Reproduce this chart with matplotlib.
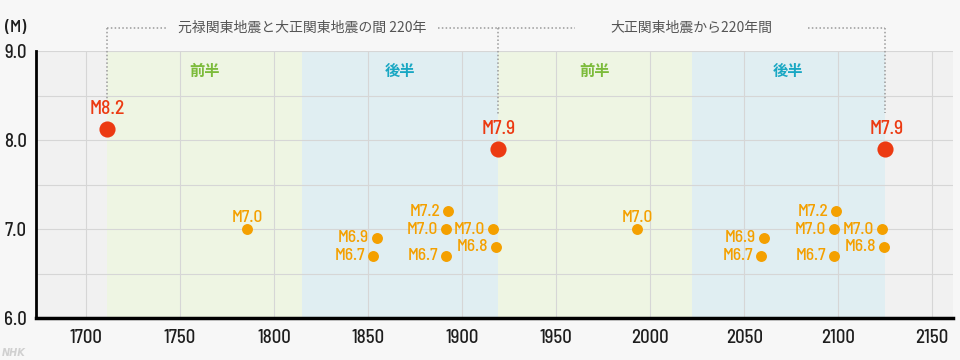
import matplotlib.pyplot as plt
from matplotlib.ticker import MultipleLocator

# (M) magnitude chart of the Kanto earthquakes, 220-year cycle
NUM_FONT = ['Barlow Semi Condensed', 'DejaVu Sans']
JP_FONT = ['Noto Sans CJK JP', 'DejaVu Sans']

# big quakes (red)
big_years = [1711, 1919, 2125]
big_mags = [8.12, 7.9, 7.9]
big_labels = ['M8.2', 'M7.9', 'M7.9']

# smaller quakes (orange)
small_years = [1785.6, 1854.8, 1852.7, 1892.5, 1891.5, 1891.5, 1916.5, 1918,
               1993, 2060.6, 2059, 2099, 2098, 2098, 2123.4, 2124.5]
small_mags = [7.0, 6.9, 6.7, 7.2, 7.0, 6.7, 7.0, 6.8,
              7.0, 6.9, 6.7, 7.2, 7.0, 6.7, 7.0, 6.8]
small_labels = ['M7.0', 'M6.9', 'M6.7', 'M7.2', 'M7.0', 'M6.7', 'M7.0', 'M6.8',
                'M7.0', 'M6.9', 'M6.7', 'M7.2', 'M7.0', 'M6.7', 'M7.0', 'M6.8']
label_above = [True, False, False, False, False, False, False, False,
               True, False, False, False, False, False, False, False]

# first/second half bands
band_edges = [1711, 1815, 1919, 2022, 2125]
band_names = ['前半', '後半', '前半', '後半']

brackets = [(1711, 1919, '元禄関東地震と大正関東地震の間 220年'),
            (1919, 2125, '大正関東地震から220年間')]

RED = '#ec3a12'
ORANGE = '#f4a000'
GREEN_BG, BLUE_BG = '#eef5e3', '#e0eef2'
GREEN_TX, BLUE_TX = '#7cbb3a', '#19a7c3'

fig = plt.figure(figsize=(9.6, 3.6), dpi=100, facecolor='#f7f7f7')
ax = fig.add_axes([0.0375, 0.1167, 0.9555, 0.741])
ax.set_facecolor('#f1f1f1')

for i in range(len(band_names)):
    c_bg = GREEN_BG if i % 2 == 0 else BLUE_BG
    c_tx = GREEN_TX if i % 2 == 0 else BLUE_TX
    ax.axvspan(band_edges[i], band_edges[i + 1], color=c_bg, zorder=0, lw=0)
    ax.text((band_edges[i] + band_edges[i + 1]) / 2, 8.78, band_names[i],
            ha='center', va='center', fontsize=11, fontweight='bold',
            color=c_tx, family=JP_FONT, zorder=3)

ax.set_xlim(1673.4, 2161.2)
ax.set_ylim(6.0, 9.0)
ax.xaxis.set_major_locator(MultipleLocator(50))
ax.yaxis.set_major_locator(MultipleLocator(1))
ax.yaxis.set_minor_locator(MultipleLocator(0.5))
ax.yaxis.set_major_formatter(lambda v, p: f'{v:.1f}')
ax.grid(True, which='both', color='#d6d6d6', lw=0.8, zorder=1)
ax.set_axisbelow(True)
ax.tick_params(which='both', length=0)
ax.tick_params(axis='x', pad=8)
ax.tick_params(axis='y', pad=6.5)
for lab in ax.get_xticklabels() + ax.get_yticklabels():
    lab.set_family(NUM_FONT)
    lab.set_fontsize(13.5)
    lab.set_fontweight(500)
    lab.set_color('#1e1e1e')

for s in ['top', 'right']:
    ax.spines[s].set_visible(False)
ax.spines['left'].set_linewidth(2)
ax.spines['bottom'].set_linewidth(2.5)

# points
ax.scatter(small_years, small_mags, s=62, color=ORANGE, zorder=4, lw=0)
ax.scatter(big_years, big_mags, s=135, color=RED, zorder=4, lw=0)

for x, y, t, up in zip(small_years, small_mags, small_labels, label_above):
    if up:
        ax.annotate(t, (x, y), xytext=(0, 12), textcoords='offset pixels',
                    ha='center', va='center', fontsize=12.5, color=ORANGE,
                    family=NUM_FONT, fontweight=500, zorder=5)
    else:
        ax.annotate(t, (x, y), xytext=(-8, 0), textcoords='offset pixels',
                    ha='right', va='center', fontsize=12.5, color=ORANGE,
                    family=NUM_FONT, fontweight=500, zorder=5)

for x, y, t in zip(big_years, big_mags, big_labels):
    ax.annotate(t, (x, y), xytext=(1, 20), textcoords='offset pixels',
                ha='center', va='center', fontsize=14, color=RED,
                family=NUM_FONT, fontweight=500, zorder=5)

# dotted brackets above the chart
top_y = 9.26
drops = [8.45, 8.28, 8.30]
dot = dict(color='#9a9a9a', lw=1.1, ls=(0, (1, 1.5)), clip_on=False, zorder=6)
for x, y0 in zip(big_years, drops):
    ax.plot([x, x], [top_y, y0], **dot)
gaps = [72, 62]
for (x0, x1, t), g in zip(brackets, gaps):
    mid = (x0 + x1) / 2
    ax.plot([x0, mid - g], [top_y, top_y], **dot)
    ax.plot([mid + g, x1], [top_y, top_y], **dot)
    ax.text(mid, top_y, t, ha='center', va='center', fontsize=10,
            color='#555555', family=JP_FONT, clip_on=False)

fig.text(5 / 960, 1 - 28 / 360, '(M)', ha='left', va='center', fontsize=13,
         color='#1e1e1e', family=NUM_FONT, fontweight=500)
fig.text(2 / 960, 1 - 353 / 360, 'NHK', ha='left', va='center', fontsize=7,
         color='#d0d0d0', style='italic', fontweight='bold')

fig.savefig('out.png', dpi=100, facecolor=fig.get_facecolor())
